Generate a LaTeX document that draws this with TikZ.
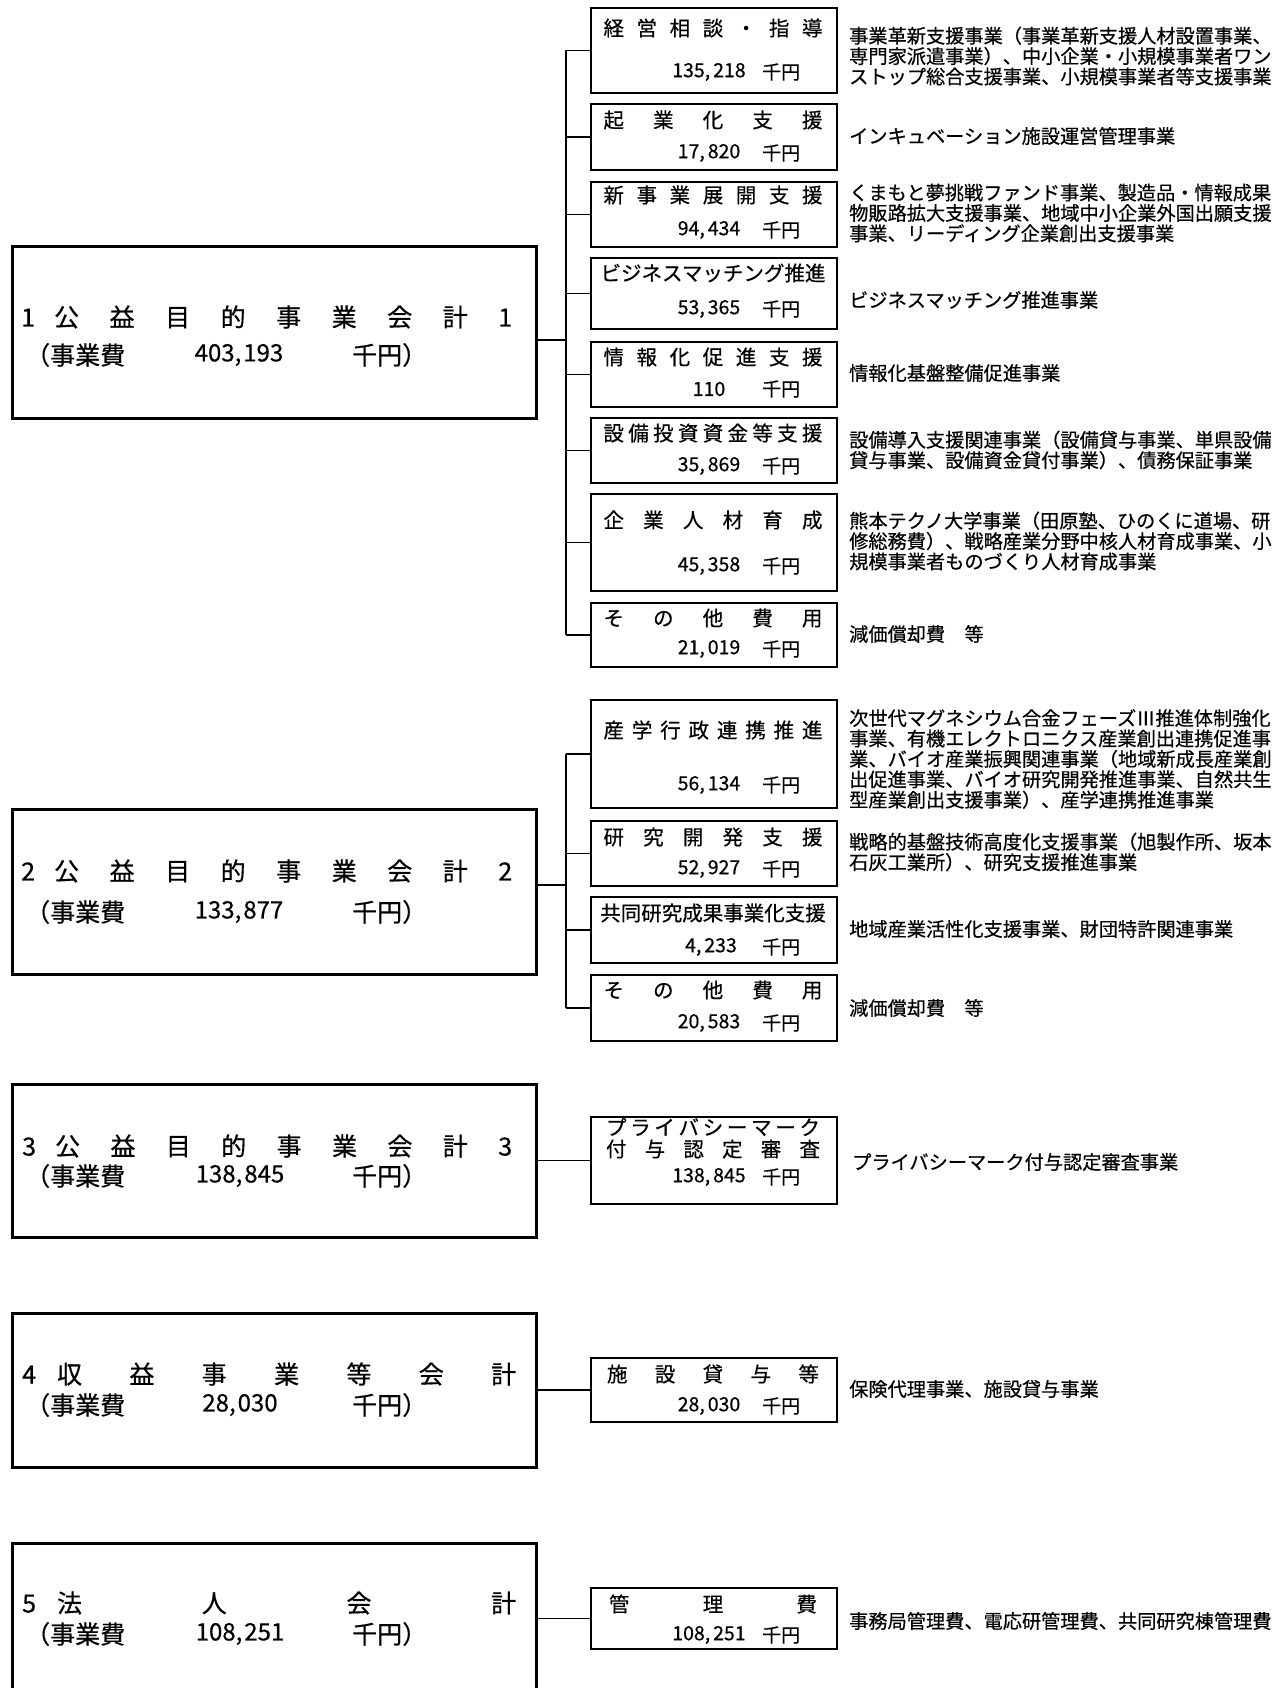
\documentclass[tikz,border=0pt]{standalone}
\usepackage{fontspec}
\newfontfamily\jp[FakeBold=0.5]{Noto Sans CJK JP}
\newcommand\dist[2]{\makebox[#1]{#2}}
\newcommand\cma{,\kern3pt}
\newcommand\mcma{,\kern2pt}
\begin{document}
\begin{tikzpicture}[x=1pt,y=-1pt,
  mainbox/.style={draw,line width=2.6pt,anchor=north west,minimum width=524pt,inner sep=0pt},
  subbox/.style={draw,line width=2pt,anchor=north west,minimum width=246pt,inner sep=0pt},
  conn/.style={line width=1.8pt},
  desc/.style={anchor=west,inner sep=0pt,align=left,font=\jp\fontsize{19.2}{20.4}\selectfont},
  ttl/.style={inner sep=0pt,font=\jp\fontsize{20.5}{22}\selectfont},
  amt/.style={inner sep=0pt,font=\jp\fontsize{19.5}{21}\selectfont},
  unit/.style={inner sep=0pt,anchor=west,font=\jp\fontsize{19}{21}\selectfont},
  mtxt/.style={inner sep=0pt,font=\jp\fontsize{25}{27}\selectfont},
  mnum/.style={inner sep=0pt,font=\jp\fontsize{24}{26}\selectfont},
]
\useasboundingbox (0,0) rectangle (1284,1688);
\fill[white] (0,0) rectangle (1284,1688);

% ---------------- main boxes ----------------
\node[mainbox,minimum height=172pt] (m1) at (11,245) {};
\node[mainbox,minimum height=165pt] (m2) at (11,808) {};
\node[mainbox,minimum height=153pt] (m3) at (11,1083) {};
\node[mainbox,minimum height=154pt] (m4) at (11,1312) {};
\node[mainbox,minimum height=220pt] (m5) at (11,1542) {};

% main box texts
\node[mtxt,anchor=west] (m1a) at (21,317) {\dist{491pt}{1\hspace{19pt}公\hfill 益\hfill 目\hfill 的\hfill 事\hfill 業\hfill 会\hfill 計\hfill 1}};
\node[mtxt,anchor=west] (m1b) at (25,355) {（事業費};
\node[mnum] (m1c) at (239,355) {403\mcma193};
\node[mtxt,anchor=west] (m1d) at (352,355) {千円）};

\node[mtxt,anchor=west] (m2a) at (21,871) {\dist{491pt}{2\hspace{19pt}公\hfill 益\hfill 目\hfill 的\hfill 事\hfill 業\hfill 会\hfill 計\hfill 2}};
\node[mtxt,anchor=west] (m2b) at (25,912) {（事業費};
\node[mnum] (m2c) at (239,912) {133\mcma877};
\node[mtxt,anchor=west] (m2d) at (352,912) {千円）};

\node[mtxt,anchor=west] (m3a) at (22,1146) {\dist{490pt}{3\hspace{19pt}公\hfill 益\hfill 目\hfill 的\hfill 事\hfill 業\hfill 会\hfill 計\hfill 3}};
\node[mtxt,anchor=west] (m3b) at (25,1176) {（事業費};
\node[mnum] (m3c) at (240,1176) {138\mcma845};
\node[mtxt,anchor=west] (m3d) at (352,1176) {千円）};

\node[mtxt,anchor=west] (m4a) at (22,1374) {\dist{494pt}{4\hspace{21pt}収\hfill 益\hfill 事\hfill 業\hfill 等\hfill 会\hfill 計}};
\node[mtxt,anchor=west] (m4b) at (25,1405) {（事業費};
\node[mnum] (m4c) at (240,1405) {28\mcma030};
\node[mtxt,anchor=west] (m4d) at (352,1405) {千円）};

\node[mtxt,anchor=west] (m5a) at (22,1603) {\dist{494pt}{5\hspace{21pt}法\hfill 人\hfill 会\hfill 計}};
\node[mtxt,anchor=west] (m5b) at (25,1634) {（事業費};
\node[mnum] (m5c) at (240,1634) {108\mcma251};
\node[mtxt,anchor=west] (m5d) at (352,1634) {千円）};

% ---------------- group 1 sub boxes ----------------
\node[subbox,minimum height=85pt] (s1) at (590,7) {};
\node[subbox,minimum height=66pt] (s2) at (590,103) {};
\node[subbox,minimum height=65pt] (s3) at (590,181) {};
\node[subbox,minimum height=71pt] (s4) at (590,257) {};
\node[subbox,minimum height=65pt] (s5) at (590,341) {};
\node[subbox,minimum height=65pt] (s6) at (590,417) {};
\node[subbox,minimum height=97pt] (s7) at (590,493) {};
\node[subbox,minimum height=64pt] (s8) at (590,602) {};

\node[ttl] (s1t) at (713,28) {\dist{219pt}{経\hfill 営\hfill 相\hfill 談\hfill ・\hfill 指\hfill 導}};
\node[amt] (s1n) at (709,72) {135\cma218};
\node[unit] (s1u) at (762,72) {千円};
\node[ttl] (s2t) at (713,120) {\dist{219pt}{起\hfill 業\hfill 化\hfill 支\hfill 援}};
\node[amt] (s2n) at (709,153) {17\cma820};
\node[unit] (s2u) at (762,153) {千円};
\node[ttl] (s3t) at (713,195) {\dist{219pt}{新\hfill 事\hfill 業\hfill 展\hfill 開\hfill 支\hfill 援}};
\node[amt] (s3n) at (709,230) {94\cma434};
\node[unit] (s3u) at (762,230) {千円};
\node[ttl] (s4t) at (713,273) {ビジネスマッチング推進};
\node[amt] (s4n) at (709,309) {53\cma365};
\node[unit] (s4u) at (762,309) {千円};
\node[ttl] (s5t) at (713,357) {\dist{219pt}{情\hfill 報\hfill 化\hfill 促\hfill 進\hfill 支\hfill 援}};
\node[amt] (s5n) at (709,389) {110};
\node[unit] (s5u) at (762,389) {千円};
\node[ttl] (s6t) at (713,433) {\dist{219pt}{設\hfill 備\hfill 投\hfill 資\hfill 資\hfill 金\hfill 等\hfill 支\hfill 援}};
\node[amt] (s6n) at (709,466) {35\cma869};
\node[unit] (s6u) at (762,466) {千円};
\node[ttl] (s7t) at (713,520) {\dist{219pt}{企\hfill 業\hfill 人\hfill 材\hfill 育\hfill 成}};
\node[amt] (s7n) at (709,566) {45\cma358};
\node[unit] (s7u) at (762,566) {千円};
\node[ttl] (s8t) at (713,618) {\dist{219pt}{そ\hfill の\hfill 他\hfill 費\hfill 用}};
\node[amt] (s8n) at (709,649) {21\cma019};
\node[unit] (s8u) at (762,649) {千円};

% descriptions group 1
\node[desc] (d1) at (849,56) {事業革新支援事業（事業革新支援人材設置事業、\\専門家派遣事業）、中小企業・小規模事業者ワン\\ストップ総合支援事業、小規模事業者等支援事業};
\node[desc] (d2) at (849,136) {インキュベーション施設運営管理事業};
\node[desc] (d3) at (849,213) {くまもと夢挑戦ファンド事業、製造品・情報成果\\物販路拡大支援事業、地域中小企業外国出願支援\\事業、リーディング企業創出支援事業};
\node[desc] (d4) at (849,300) {ビジネスマッチング推進事業};
\node[desc] (d5) at (849,373) {情報化基盤整備促進事業};
\node[desc] (d6) at (849,450) {設備導入支援関連事業（設備貸与事業、単県設備\\貸与事業、設備資金貸付事業）、債務保証事業};
\node[desc] (d7) at (849,541) {熊本テクノ大学事業（田原塾、ひのくに道場、研\\修総務費）、戦略産業分野中核人材育成事業、小\\規模事業者ものづくり人材育成事業};
\node[desc] (d8) at (849,634) {減価償却費　等};

% connectors group 1
\coordinate (bus1) at (566,340);
\draw[conn] (bus1 -| m1.east) -- (bus1);
\draw[conn] (s1.west -| bus1) -- (s8.west -| bus1);
\foreach \s in {s1,s2,s3,s4,s5,s6,s7,s8}
  \draw[conn] (\s.west -| bus1) -- (\s.west);

% ---------------- group 2 sub boxes ----------------
\node[subbox,minimum height=108pt] (t1) at (590,699) {};
\node[subbox,minimum height=65pt] (t2) at (590,820) {};
\node[subbox,minimum height=66pt] (t3) at (590,896) {};
\node[subbox,minimum height=66pt] (t4) at (590,974) {};

\node[ttl] (t1t) at (713,730) {\dist{219pt}{産\hfill 学\hfill 行\hfill 政\hfill 連\hfill 携\hfill 推\hfill 進}};
\node[amt] (t1n) at (709,785) {56\cma134};
\node[unit] (t1u) at (762,785) {千円};
\node[ttl] (t2t) at (713,837) {\dist{219pt}{研\hfill 究\hfill 開\hfill 発\hfill 支\hfill 援}};
\node[amt] (t2n) at (709,869) {52\cma927};
\node[unit] (t2u) at (762,869) {千円};
\node[ttl] (t3t) at (713,913) {共同研究成果事業化支援};
\node[amt] (t3n) at (711,947) {4\cma233};
\node[unit] (t3u) at (762,947) {千円};
\node[ttl] (t4t) at (713,990) {\dist{219pt}{そ\hfill の\hfill 他\hfill 費\hfill 用}};
\node[amt] (t4n) at (709,1023) {20\cma583};
\node[unit] (t4u) at (762,1023) {千円};

\node[desc] (e1) at (849,759) {次世代マグネシウム合金フェーズⅢ推進体制強化\\事業、有機エレクトロニクス産業創出連携促進事\\業、バイオ産業振興関連事業（地域新成長産業創\\出促進事業、バイオ研究開発推進事業、自然共生\\型産業創出支援事業）、産学連携推進事業};
\node[desc] (e2) at (849,852) {戦略的基盤技術高度化支援事業（旭製作所、坂本\\石灰工業所）、研究支援推進事業};
\node[desc] (e3) at (849,929) {地域産業活性化支援事業、財団特許関連事業};
\node[desc] (e4) at (849,1008) {減価償却費　等};

\coordinate (bus2) at (566,885);
\draw[conn] (bus2 -| m2.east) -- (bus2);
\draw[conn] (t1.west -| bus2) -- (t4.west -| bus2);
\foreach \s in {t1,t2,t3,t4}
  \draw[conn] (\s.west -| bus2) -- (\s.west);

% ---------------- group 3 ----------------
\node[subbox,minimum height=87pt] (u1) at (590,1116) {};
\node[ttl] (u1a) at (713,1127) {\dist{214pt}{プ\hfill ラ\hfill イ\hfill バ\hfill シ\hfill ー\hfill マ\hfill ー\hfill ク}};
\node[ttl] (u1b) at (713,1149) {\dist{214pt}{付\hfill 与\hfill 認\hfill 定\hfill 審\hfill 査}};
\node[amt] (u1n) at (709,1177) {138\cma845};
\node[unit] (u1u) at (762,1177) {千円};
\node[desc] (f1) at (852,1162) {プライバシーマーク付与認定審査事業};
\draw[conn] (m3.east |- u1.west) -- (u1.west);

% ---------------- group 4 ----------------
\node[subbox,minimum height=64pt] (v1) at (590,1357) {};
\node[ttl] (v1t) at (713,1374) {\dist{212pt}{施\hfill 設\hfill 貸\hfill 与\hfill 等}};
\node[amt] (v1n) at (709,1406) {28\cma030};
\node[unit] (v1u) at (762,1406) {千円};
\node[desc] (g1) at (849,1389) {保険代理事業、施設貸与事業};
\draw[conn] (m4.east |- v1.west) -- (v1.west);

% ---------------- group 5 ----------------
\node[subbox,minimum height=61pt] (w1) at (590,1587) {};
\node[ttl] (w1t) at (713,1604) {\dist{208pt}{管\hfill 理\hfill 費}};
\node[amt] (w1n) at (709,1635) {108\cma251};
\node[unit] (w1u) at (762,1635) {千円};
\node[desc] (h1) at (849,1621) {事務局管理費、電応研管理費、共同研究棟管理費};
\draw[conn] (m5.east |- w1.west) -- (w1.west);
\end{tikzpicture}
\end{document}
